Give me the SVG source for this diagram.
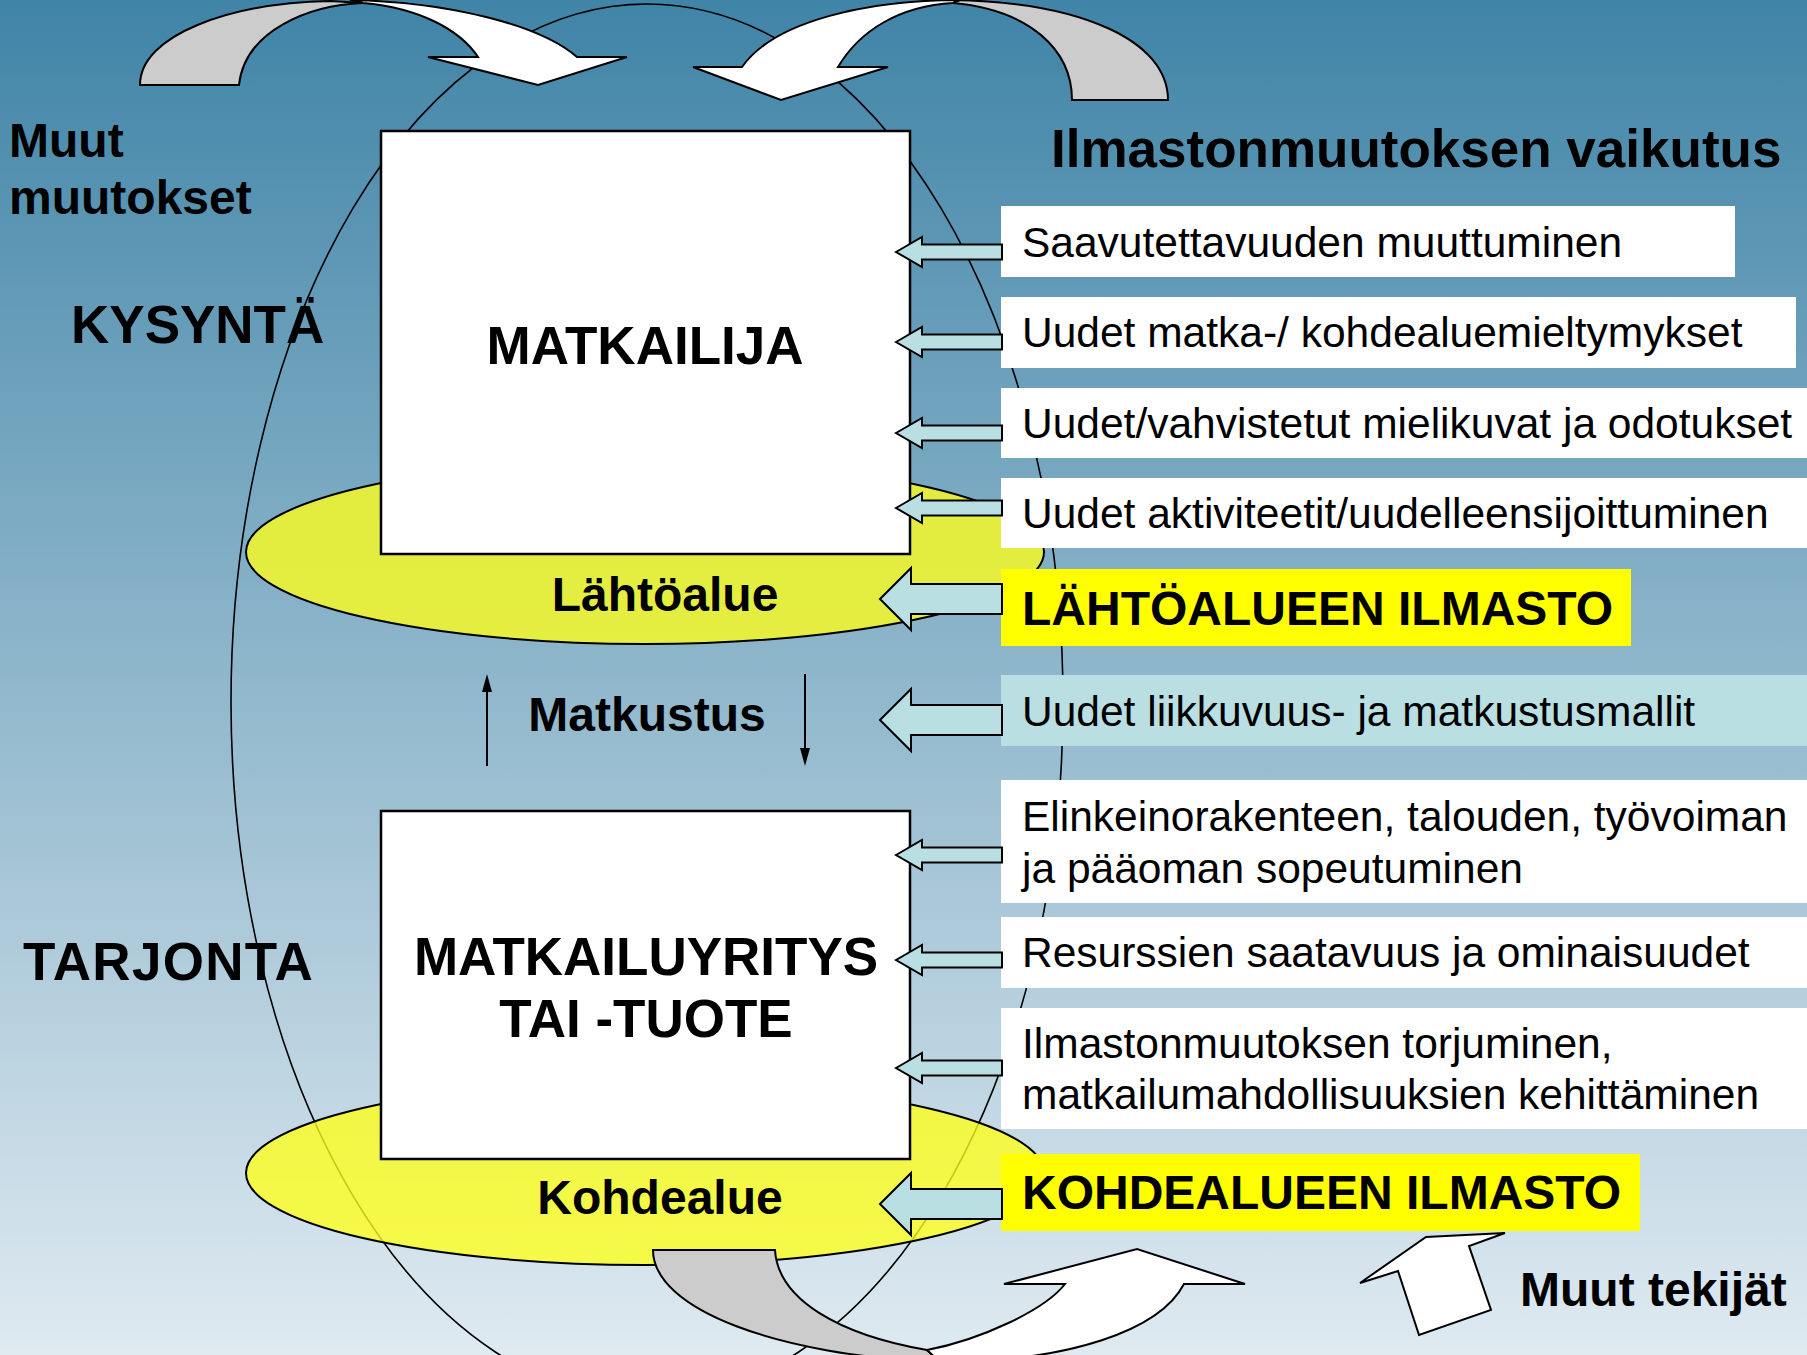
<svg xmlns="http://www.w3.org/2000/svg" width="1807" height="1355" viewBox="0 0 1807 1355">
<defs>
<linearGradient id="bg" x1="0" y1="0" x2="0" y2="1355" gradientUnits="userSpaceOnUse">
<stop offset="0" stop-color="#4084a7"/>
<stop offset="1" stop-color="#dfeaf1"/>
</linearGradient>
<marker id="ah" viewBox="0 0 10 16" refX="10" refY="8" markerWidth="10" markerHeight="16" markerUnits="userSpaceOnUse" orient="auto">
<path d="M0,0 L10,8 L0,16 Z" transform="rotate(0)" fill="#000"/>
</marker>
<style>
.t{font-family:"Liberation Sans",Arial,sans-serif;fill:#000}
.b{font-weight:bold}
.item{font-size:42.5px}
.big{font-size:53px;font-weight:bold}
.mid{font-size:48px;font-weight:bold}
.box{fill:#fff;stroke:#000;stroke-width:2.5}
.ylw{fill:#ffff1a;fill-opacity:0.78;stroke:#000;stroke-width:2}
.cy{fill:#b9dfe2;stroke:#000;stroke-width:2;stroke-linejoin:miter}
.gray{fill:#cccccc;stroke:#000;stroke-width:2}
.wh{fill:#fff;stroke:#000;stroke-width:2}
</style>
</defs>
<rect x="0" y="0" width="1807" height="1355" fill="url(#bg)"/>

<g id="cycle">
<ellipse cx="647" cy="702" rx="416" ry="698" fill="none" stroke="#000" stroke-width="1.6"/>
</g>

<g id="lahtoalue">
<ellipse class="ylw" cx="645" cy="552" rx="399" ry="92"/>
</g>
<g id="kohdealue">
<ellipse class="ylw" cx="645" cy="1173" rx="399" ry="92"/>
</g>

<g id="matkailija">
<rect class="box" x="381" y="131" width="529" height="423"/>
<text class="t big" x="645" y="364" text-anchor="middle">MATKAILIJA</text>
</g>
<g id="matkailuyritys">
<rect class="box" x="381" y="811" width="529" height="348"/>
<text class="t big" x="646" y="975" text-anchor="middle">MATKAILUYRITYS</text>
<text class="t big" x="646" y="1037" text-anchor="middle">TAI -TUOTE</text>
</g>

<g id="items">
<g id="i1"><rect x="1001" y="206" width="734" height="71" fill="#fff"/><text class="t item" x="1022" y="257">Saavutettavuuden muuttuminen</text></g>
<g id="i2"><rect x="1001" y="297" width="795" height="71" fill="#fff"/><text class="t item" x="1022" y="347">Uudet matka-/ kohdealuemieltymykset</text></g>
<g id="i3"><rect x="1001" y="388" width="806" height="70" fill="#fff"/><text class="t item" x="1022" y="438">Uudet/vahvistetut mielikuvat ja odotukset</text></g>
<g id="i4"><rect x="1001" y="478" width="806" height="70" fill="#fff"/><text class="t item" x="1022" y="528">Uudet aktiviteetit/uudelleensijoittuminen</text></g>
<g id="i5"><rect x="1001" y="569" width="630" height="77" fill="#ffff00"/><text class="t mid" x="1022" y="625">LÄHTÖALUEEN ILMASTO</text></g>
<g id="i6"><rect x="1001" y="675" width="806" height="71" fill="#b9dfe2"/><text class="t item" x="1022" y="726">Uudet liikkuvuus- ja matkustusmallit</text></g>
<g id="i7"><rect x="1001" y="780" width="806" height="123" fill="#fff"/><text class="t item" x="1022" y="831">Elinkeinorakenteen, talouden, työvoiman</text><text class="t item" x="1022" y="883">ja pääoman sopeutuminen</text></g>
<g id="i8"><rect x="1001" y="917" width="806" height="71" fill="#fff"/><text class="t item" x="1022" y="967">Resurssien saatavuus ja ominaisuudet</text></g>
<g id="i9"><rect x="1001" y="1008" width="806" height="121" fill="#fff"/><text class="t item" x="1022" y="1058">Ilmastonmuutoksen torjuminen,</text><text class="t item" x="1022" y="1109">matkailumahdollisuuksien kehittäminen</text></g>
<g id="i10"><rect x="1001" y="1154" width="639" height="77" fill="#ffff00"/><text class="t mid" x="1022" y="1209">KOHDEALUEEN ILMASTO</text></g>
</g>

<g id="connectors">
<path class="cy" d="M896,252 L922,237 L922,244.5 L1002,244.5 L1002,259.5 L922,259.5 L922,267 Z"/>
<path class="cy" d="M896,342 L922,327 L922,334.5 L1002,334.5 L1002,349.5 L922,349.5 L922,357 Z"/>
<path class="cy" d="M896,433 L922,418 L922,425.5 L1002,425.5 L1002,440.5 L922,440.5 L922,448 Z"/>
<path class="cy" d="M896,508 L922,493 L922,500.5 L1002,500.5 L1002,515.5 L922,515.5 L922,523 Z"/>
<path class="cy" d="M880,599 L911,568 L911,584 L1002,584 L1002,614 L911,614 L911,630 Z"/>
<path class="cy" d="M880,720 L911,689 L911,705 L1002,705 L1002,735 L911,735 L911,751 Z"/>
<path class="cy" d="M896,855 L922,840 L922,847.5 L1002,847.5 L1002,862.5 L922,862.5 L922,870 Z"/>
<path class="cy" d="M896,960 L922,945 L922,952.5 L1002,952.5 L1002,967.5 L922,967.5 L922,975 Z"/>
<path class="cy" d="M896,1068 L922,1053 L922,1060.5 L1002,1060.5 L1002,1075.5 L922,1075.5 L922,1083 Z"/>
<path class="cy" d="M880,1204 L911,1173 L911,1189 L1002,1189 L1002,1219 L911,1219 L911,1235 Z"/>
<line x1="487" y1="766" x2="487" y2="690" stroke="#000" stroke-width="2"/>
<path d="M487,674 L492,692 L482,692 Z" fill="#000"/>
<line x1="805" y1="674" x2="805" y2="750" stroke="#000" stroke-width="2"/>
<path d="M805,766 L800,748 L810,748 Z" fill="#000"/>
<!-- top-left curved arrow -->
<path class="gray" d="M140,85 C140,35 230,3 330,1 L363,3 C310,5 245,30 239,85 Z"/>
<path class="wh" d="M350,0 C450,2 540,25 577,57 L627,57 L538,85 L428,57 L478,57 C460,30 420,8 363,3 Z"/>
<!-- top-right curved arrow -->
<path class="gray" d="M953,0 C1080,2 1168,40 1168,100 L1072,100 C1072,50 1030,10 953,3 Z"/>
<path class="wh" d="M742,67 C775,20 870,0 960,0 L953,3 C900,6 860,30 838,67 L888,67 L781,100 L693,67 Z"/>
<!-- bottom curved arrow -->
<path class="gray" d="M653,1250 L775,1250 C778,1300 840,1335 927,1350 L940,1362 C780,1356 653,1310 653,1250 Z"/>
<path class="wh" d="M927,1350 C980,1340 1045,1310 1065,1284 L1004,1284 L1137,1249 L1245,1284 L1184,1284 C1160,1330 1070,1362 940,1362 Z"/>
<!-- muut tekijat arrow -->
<path class="wh" d="M1360,1283 L1426,1237 L1505,1233 L1469,1246 L1491,1310 L1419,1335 L1398,1271 Z"/>
</g>

<g id="labels">
<text class="t mid" x="665" y="611" text-anchor="middle">Lähtöalue</text>
<text class="t mid" x="647" y="731" text-anchor="middle">Matkustus</text>
<text class="t mid" x="660" y="1214" text-anchor="middle">Kohdealue</text>
<text class="t big" x="1051" y="167">Ilmastonmuutoksen vaikutus</text>
<text class="t mid" x="9" y="157">Muut</text>
<text class="t mid" x="9" y="214">muutokset</text>
<text class="t big" x="71" y="343">KYSYNTÄ</text>
<text class="t big" x="23" y="980" letter-spacing="1.3">TARJONTA</text>
<text class="t mid" x="1520" y="1306">Muut tekijät</text>
</g>
</svg>
